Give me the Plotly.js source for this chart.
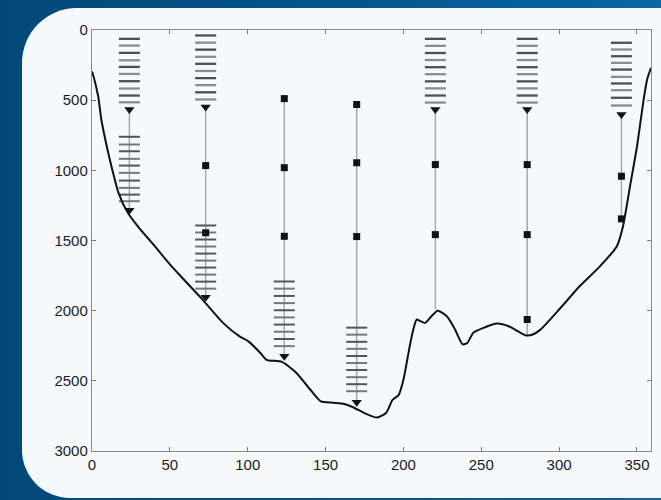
<!DOCTYPE html>
<html>
<head>
<meta charset="utf-8">
<script src="https://cdn.plot.ly/plotly-3.0.1.min.js"></script>
<style>
  html, body { margin:0; padding:0; width:661px; height:500px; overflow:hidden;
    background: linear-gradient(90deg, #024877 0%, #03558c 50%, #0a65a3 100%); }
  #panel { position:absolute; left:22px; top:8px; width:700px; height:490px;
    background:#f5f9fc; border-radius:55px 0 0 48px; }
  #chart { position:absolute; left:0; top:0; width:661px; height:500px; }
</style>
</head>
<body>
<div id="panel"></div>
<div id="chart"></div>
<script>
// Bathymetry (distance, depth)
const bathyX = [0, 1, 4, 6, 9.5, 13, 17, 23, 31, 38, 44, 50, 60, 71, 84, 95, 100, 108, 112, 122, 131, 140, 147, 155, 162, 168, 175, 183, 189, 193, 197, 200, 204, 206, 208.5, 211, 214, 218, 222, 228, 233, 238, 241, 245, 252, 260, 268, 274, 279, 283, 288, 300, 313, 326, 337, 341, 345.5, 350, 354, 356.5, 359];
const bathyDepth = [296, 331, 474, 638, 830, 994, 1160, 1303, 1421, 1510, 1590, 1670, 1790, 1921, 2085, 2185, 2215, 2300, 2350, 2365, 2440, 2560, 2647, 2656, 2665, 2690, 2730, 2762, 2727, 2636, 2600, 2493, 2256, 2150, 2063, 2075, 2087, 2040, 2000, 2041, 2130, 2240, 2230, 2156, 2120, 2092, 2113, 2150, 2177, 2170, 2135, 1992, 1828, 1686, 1543, 1400, 1115, 830, 517, 353, 270];

// Moorings
const stationX = [24, 73, 123.5, 170, 220.5, 279.5, 340];
const lineTop = [567, 548, 489, 531, 567, 567, 602];
const lineBottom = [1284, 1905, 2325, 2653, 1992, 2177, 1346];

// Upper dash groups (instrument depths)
const dashUpper = [
  [63, 111, 163, 216, 263, 313, 365, 417, 467, 515],
  [39, 90, 140, 191, 241, 292, 343, 393, 444, 495],
  [],
  [],
  [63, 113, 164, 214, 265, 315, 366, 416, 467, 517],
  [63, 113, 164, 214, 265, 315, 366, 416, 467, 517],
  [91, 139, 187, 234, 282, 334, 381, 429, 483, 538]
];
// Lower dash groups (on the mooring line)
const dashLower = [
  [761, 816, 864, 918, 966, 1018, 1073, 1125, 1173, 1220],
  [1393, 1443, 1493, 1543, 1593, 1643, 1693, 1743, 1793, 1843],
  [1792, 1843, 1895, 1946, 1997, 2048, 2099, 2150, 2202, 2253],
  [2121, 2171, 2222, 2272, 2323, 2373, 2423, 2474, 2524, 2574],
  [],
  [],
  []
];
// Square instruments
const squareDepths = [
  [],
  [966, 1445],
  [489, 981, 1470],
  [531, 946, 1472],
  [959, 1458],
  [959, 1458, 2063],
  [1042, 1346]
];
// Triangle (float/anchor) depths
const triangleDepths = [
  [567, 1284],
  [548, 1905],
  [2325],
  [2653],
  [567],
  [567],
  [602]
];

const xTicks = [0, 50, 100, 150, 200, 250, 300, 350];
const yTicks = [0, 500, 1000, 1500, 2000, 2500, 3000];

// build traces
const lx = [], ly = [];
stationX.forEach((x, i) => { lx.push(x, x, null); ly.push(lineTop[i], lineBottom[i], null); });

function flatten(groups) {
  const xs = [], ys = [], cs = [];
  groups.forEach((g, i) => g.forEach((d, j) => {
    xs.push(stationX[i]); ys.push(d); cs.push(j % 2 === 0 ? '#4f4f4f' : '#8c8c8c');
  }));
  return {xs, ys, cs};
}
const up = flatten(dashUpper);
const lo = flatten(dashLower);
const sq = flatten(squareDepths);
const tr = flatten(triangleDepths);

const traces = [
  {x: lx, y: ly, mode: 'lines', line: {color: '#a9a9a9', width: 1.5}, hoverinfo: 'skip'},
  {x: up.xs, y: up.ys, mode: 'markers', marker: {symbol: 'line-ew', size: 15, line: {width: 2.3, color: up.cs}}},
  {x: lo.xs, y: lo.ys, mode: 'markers', marker: {symbol: 'line-ew', size: 15, line: {width: 2, color: lo.ys.map((_, j) => j % 2 === 0 ? '#555' : '#777')}}},
  {x: bathyX, y: bathyDepth, mode: 'lines', line: {color: '#111', width: 2, shape: 'spline', smoothing: 0.6}},
  {x: sq.xs, y: sq.ys, mode: 'markers', marker: {symbol: 'square', size: 7, color: '#111'}},
  {x: tr.xs, y: tr.ys, mode: 'markers', marker: {symbol: 'triangle-down', size: 9, color: '#111'}}
];

const axisFont = {family: 'Liberation Sans, Arial, Helvetica, sans-serif', size: 15, color: '#1c1c1c'};
const layout = {
  width: 661, height: 500,
  margin: {l: 92, r: 10, t: 30, b: 49},
  paper_bgcolor: 'rgba(0,0,0,0)',
  plot_bgcolor: 'rgba(0,0,0,0)',
  showlegend: false,
  xaxis: {range: [0, 359], tickvals: xTicks, ticktext: xTicks.map(String), ticks: 'inside', ticklen: 4,
    tickcolor: '#777', showline: true, linecolor: '#8a8a8a', linewidth: 1.2, mirror: 'ticks',
    showgrid: false, zeroline: false, tickfont: axisFont, fixedrange: true},
  yaxis: {range: [3000, 0], tickvals: yTicks, ticktext: yTicks.map(String), ticks: 'inside', ticklen: 4,
    tickcolor: '#777', showline: true, linecolor: '#8a8a8a', linewidth: 1.2, mirror: 'ticks',
    showgrid: false, zeroline: false, tickfont: axisFont, fixedrange: true}
};
Plotly.newPlot('chart', traces, layout, {staticPlot: true});
</script>
</body>
</html>
